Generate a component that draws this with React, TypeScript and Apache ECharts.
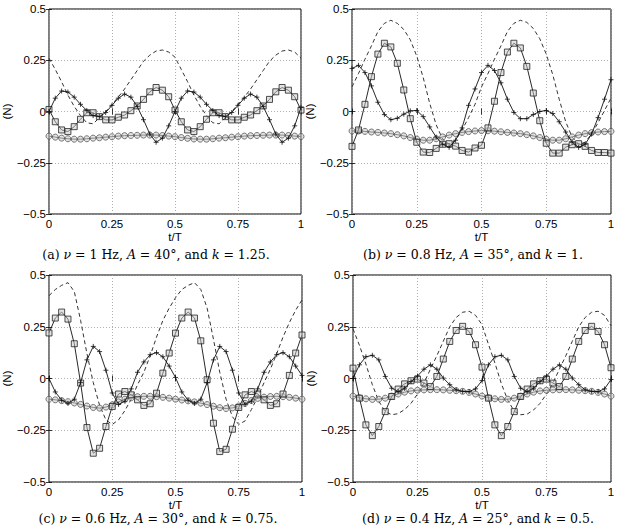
import React, { useEffect, useRef } from "react";
import * as echarts from "echarts";

// t/T sample points (every 0.025)
const T = [
  0, 0.025, 0.05, 0.075, 0.1, 0.125, 0.15, 0.175, 0.2, 0.225, 0.25, 0.275, 0.3, 0.325, 0.35, 0.375, 0.4,
  0.425, 0.45, 0.475, 0.5, 0.525, 0.55, 0.575, 0.6, 0.625, 0.65, 0.675, 0.7, 0.725, 0.75, 0.775, 0.8,
  0.825, 0.85, 0.875, 0.9, 0.925, 0.95, 0.975, 1,
];

const X_TICKS = ["0", "0.25", "0.5", "0.75", "1"];
const Y_TICKS = ["\u22120.5", "\u22120.25", "0", "0.25", "0.5"];

// ---- panel (a) ----
const A_DASH = [0.26, 0.205, 0.145, 0.08, 0.025, -0.02, -0.055, -0.06, -0.03, 0.0, 0.035, 0.07, 0.11, 0.155, 0.2, 0.245, 0.275, 0.295, 0.3, 0.29, 0.265,
  0.205, 0.145, 0.08, 0.025, -0.02, -0.055, -0.06, -0.03, 0.0, 0.035, 0.07, 0.11, 0.155, 0.2, 0.245, 0.275, 0.295, 0.3, 0.29, 0.26];
const A_PLUS = [0.0, 0.065, 0.1, 0.095, 0.07, 0.035, 0.005, -0.02, -0.025, -0.005, 0.03, 0.065, 0.085, 0.07, 0.025, -0.04, -0.11, -0.15, -0.13, -0.07, 0.0,
  0.065, 0.1, 0.095, 0.07, 0.035, 0.005, -0.02, -0.025, -0.005, 0.03, 0.065, 0.085, 0.07, 0.025, -0.04, -0.11, -0.15, -0.13, -0.07, 0.02];
const A_SQ = [0.01, -0.05, -0.09, -0.098, -0.074, -0.038, -0.006, -0.006, -0.025, -0.041, -0.041, -0.028, -0.017, 0.004, 0.027, 0.059, 0.096, 0.117, 0.104, 0.072, 0.007,
  -0.05, -0.09, -0.098, -0.074, -0.038, -0.006, -0.006, -0.025, -0.041, -0.041, -0.028, -0.017, 0.004, 0.027, 0.059, 0.096, 0.117, 0.104, 0.072, 0.007];
const A_CIR = [-0.12, -0.125, -0.13, -0.133, -0.135, -0.135, -0.133, -0.13, -0.128, -0.125, -0.123, -0.12, -0.118, -0.117, -0.116, -0.115, -0.115, -0.115, -0.117, -0.12, -0.123,
  -0.127, -0.131, -0.134, -0.135, -0.135, -0.133, -0.13, -0.128, -0.125, -0.123, -0.12, -0.118, -0.117, -0.116, -0.115, -0.115, -0.115, -0.117, -0.12, -0.122];

// ---- panel (b) ----
const B_DASH = [0.12, 0.185, 0.255, 0.32, 0.39, 0.43, 0.445, 0.43, 0.4, 0.35, 0.27, 0.165, 0.04, -0.065, -0.135, -0.16, -0.14, -0.09, -0.03, 0.035, 0.12,
  0.185, 0.255, 0.32, 0.39, 0.43, 0.445, 0.435, 0.405, 0.355, 0.28, 0.18, 0.06, -0.05, -0.125, -0.16, -0.15, -0.11, -0.055, 0.005, 0.065];
const B_PLUS = [0.21, 0.225, 0.19, 0.125, 0.045, -0.015, -0.04, -0.033, -0.013, 0.003, 0.005, -0.025, -0.075, -0.125, -0.16, -0.175, -0.14, -0.08, 0.03, 0.11, 0.19,
  0.225, 0.2, 0.14, 0.06, -0.005, -0.035, -0.035, -0.015, 0.0, 0.005, -0.01, -0.05, -0.1, -0.15, -0.175, -0.16, -0.11, -0.03, 0.06, 0.155];
const B_SQ = [-0.17, -0.09, 0.035, 0.17, 0.28, 0.333, 0.315, 0.235, 0.105, -0.035, -0.15, -0.198, -0.2, -0.18, -0.16, -0.157, -0.169, -0.19, -0.198, -0.178, -0.165,
  -0.08, 0.05, 0.19, 0.29, 0.333, 0.31, 0.22, 0.09, -0.045, -0.155, -0.203, -0.203, -0.174, -0.162, -0.157, -0.17, -0.19, -0.2, -0.2, -0.203];
const B_CIR = [-0.095, -0.095, -0.097, -0.1, -0.102, -0.105, -0.108, -0.113, -0.119, -0.127, -0.135, -0.14, -0.14, -0.133, -0.124, -0.115, -0.108, -0.102, -0.098, -0.095, -0.093,
  -0.094, -0.096, -0.099, -0.102, -0.105, -0.108, -0.113, -0.119, -0.127, -0.135, -0.14, -0.14, -0.133, -0.124, -0.115, -0.108, -0.103, -0.1, -0.098, -0.097];

// ---- panel (c) ----
const C_DASH = [0.4, 0.43, 0.45, 0.463, 0.42, 0.28, 0.12, -0.02, -0.13, -0.2, -0.222, -0.2, -0.155, -0.1, -0.03, 0.03, 0.11, 0.2, 0.28, 0.34, 0.39,
  0.43, 0.45, 0.463, 0.43, 0.34, 0.19, 0.03, -0.1, -0.185, -0.222, -0.205, -0.15, -0.09, -0.02, 0.045, 0.12, 0.2, 0.27, 0.33, 0.38];
const C_PLUS = [0.0, -0.065, -0.105, -0.12, -0.1, -0.02, 0.09, 0.155, 0.13, 0.04, -0.07, -0.125, -0.11, -0.05, 0.03, 0.08, 0.115, 0.125, 0.105, 0.06, 0.005,
  -0.065, -0.105, -0.12, -0.1, -0.02, 0.09, 0.155, 0.13, 0.04, -0.07, -0.125, -0.11, -0.05, 0.03, 0.08, 0.115, 0.125, 0.105, 0.06, 0.015];
const C_SQ = [0.22, 0.292, 0.321, 0.287, 0.168, -0.022, -0.237, -0.361, -0.337, -0.232, -0.135, -0.075, -0.063, -0.079, -0.103, -0.13, -0.122, -0.071, 0.026, 0.123, 0.219,
  0.292, 0.321, 0.292, 0.182, -0.006, -0.216, -0.353, -0.342, -0.245, -0.14, -0.079, -0.063, -0.075, -0.103, -0.13, -0.122, -0.075, 0.015, 0.123, 0.21];
const C_CIR = [-0.1, -0.103, -0.107, -0.112, -0.118, -0.125, -0.133, -0.14, -0.143, -0.138, -0.127, -0.113, -0.1, -0.093, -0.088, -0.086, -0.086, -0.088, -0.091, -0.095, -0.1,
  -0.104, -0.108, -0.113, -0.119, -0.126, -0.134, -0.141, -0.145, -0.142, -0.133, -0.12, -0.106, -0.096, -0.09, -0.087, -0.086, -0.088, -0.091, -0.095, -0.1];

// ---- panel (d) ----
const D_DASH = [0.24, 0.16, 0.07, -0.03, -0.11, -0.16, -0.175, -0.17, -0.15, -0.12, -0.075, -0.022, 0.045, 0.11, 0.18, 0.25, 0.295, 0.32, 0.325, 0.305, 0.26,
  0.165, 0.075, -0.025, -0.105, -0.158, -0.175, -0.172, -0.152, -0.12, -0.075, -0.022, 0.045, 0.11, 0.18, 0.25, 0.295, 0.32, 0.325, 0.305, 0.255];
const D_PLUS = [0.0, 0.066, 0.105, 0.112, 0.09, 0.01, -0.047, -0.063, -0.047, -0.015, 0.012, 0.045, 0.066, 0.045, 0.002, -0.03, -0.055, -0.062, -0.063, -0.05, -0.01,
  0.066, 0.105, 0.112, 0.09, 0.01, -0.047, -0.063, -0.047, -0.015, 0.012, 0.045, 0.066, 0.045, 0.002, -0.03, -0.055, -0.062, -0.063, -0.05, -0.005];
const D_SQ = [0.05, -0.095, -0.224, -0.276, -0.232, -0.16, -0.087, -0.051, -0.026, -0.011, -0.003, -0.022, -0.039, 0.01, 0.094, 0.179, 0.232, 0.252, 0.227, 0.163, 0.055,
  -0.095, -0.224, -0.276, -0.232, -0.16, -0.087, -0.051, -0.026, -0.011, -0.003, -0.022, -0.039, 0.01, 0.094, 0.179, 0.232, 0.252, 0.227, 0.163, 0.052];
const D_CIR = [-0.085, -0.093, -0.098, -0.101, -0.1, -0.095, -0.085, -0.075, -0.066, -0.06, -0.057, -0.055, -0.054, -0.054, -0.055, -0.057, -0.059, -0.062, -0.067, -0.075, -0.085,
  -0.093, -0.098, -0.101, -0.1, -0.095, -0.085, -0.075, -0.066, -0.06, -0.057, -0.055, -0.054, -0.054, -0.055, -0.057, -0.059, -0.062, -0.067, -0.075, -0.085];

const PANEL_DATA = [
  { dash: A_DASH, plus: A_PLUS, sq: A_SQ, cir: A_CIR },
  { dash: B_DASH, plus: B_PLUS, sq: B_SQ, cir: B_CIR },
  { dash: C_DASH, plus: C_PLUS, sq: C_SQ, cir: C_CIR },
  { dash: D_DASH, plus: D_PLUS, sq: D_SQ, cir: D_CIR },
];

// caption segments: roman, italic, roman, italic ...
const CAPTIONS = [
  ["(a) ", "\u03bd", " = 1 Hz, ", "A", " = 40\u00b0, and ", "k", " = 1.25."],
  ["(b) ", "\u03bd", " = 0.8 Hz, ", "A", " = 35\u00b0, and ", "k", " = 1."],
  ["(c) ", "\u03bd", " = 0.6 Hz, ", "A", " = 30\u00b0, and ", "k", " = 0.75."],
  ["(d) ", "\u03bd", " = 0.4 Hz, ", "A", " = 25\u00b0, and ", "k", " = 0.5."],
];

const GRIDS = [
  { left: 42, top: 9, width: 259, height: 205 },
  { left: 352, top: 9, width: 259, height: 205 },
  { left: 42, top: 275, width: 260, height: 207 },
  { left: 353, top: 275, width: 258, height: 207 },
];
const CAPTION_POS = [
  { x: 156, y: 254 },
  { x: 473, y: 254 },
  { x: 158, y: 518 },
  { x: 478, y: 518 },
];

const SANS = "'Liberation Sans', Arial, Helvetica, sans-serif";
const SERIF = "'DejaVu Serif', 'Liberation Serif', serif";
const PLUS_PATH = "path://M5,0L5,10M0,5L10,5";

function pairs(vals: number[]) {
  return T.map((t, i) => [t, vals[i]]);
}

export default function App() {
  const ref = useRef<HTMLDivElement>(null);
  useEffect(() => {
    document.body.style.margin = "0";
    if (!ref.current) return;
    const chart = echarts.init(ref.current, null, { renderer: "svg" });

    const xAxis: any[] = [];
    const yAxis: any[] = [];
    const series: any[] = [];
    const graphic: any[] = [];

    GRIDS.forEach((g, i) => {
      const tick = { show: true, inside: true, length: 3, lineStyle: { color: "#000", width: 0.8 } };
      xAxis.push({
        type: "value", gridIndex: i, min: 0, max: 1, interval: 0.25, position: "bottom",
        axisLine: { show: false }, axisTick: tick,
        axisLabel: {
          color: "#000", fontFamily: SANS, fontSize: 11.5, margin: 4,
          formatter: (v: number) => X_TICKS[Math.round(v / 0.25)],
        },
        splitLine: { show: true, lineStyle: { color: "#9a9a9a", type: [1, 2], width: 0.8 } },
        name: "t/T", nameLocation: "middle", nameGap: 16,
        nameTextStyle: { color: "#000", fontFamily: SANS, fontSize: 11.5 },
      });
      xAxis.push({
        type: "value", gridIndex: i, min: 0, max: 1, interval: 0.25, position: "top",
        axisLine: { show: false }, axisTick: tick, axisLabel: { show: false }, splitLine: { show: false },
      });
      yAxis.push({
        type: "value", gridIndex: i, min: -0.5, max: 0.5, interval: 0.25, position: "left",
        axisLine: { show: false }, axisTick: tick,
        axisLabel: {
          color: "#000", fontFamily: SANS, fontSize: 11.5, margin: 3,
          formatter: (v: number) => Y_TICKS[Math.round((v + 0.5) / 0.25)],
        },
        splitLine: { show: true, lineStyle: { color: "#9a9a9a", type: [1, 2], width: 0.8 } },
        name: "(N)", nameLocation: "middle", nameGap: 33,
        nameTextStyle: { color: "#000", fontFamily: SANS, fontSize: 11.5 },
      });
      yAxis.push({
        type: "value", gridIndex: i, min: -0.5, max: 0.5, interval: 0.25, position: "right",
        axisLine: { show: false }, axisTick: tick, axisLabel: { show: false }, splitLine: { show: false },
      });

      const d = PANEL_DATA[i];
      const ax = { xAxisIndex: 2 * i, yAxisIndex: 2 * i };
      series.push({
        type: "line", ...ax, data: pairs(d.dash), showSymbol: false, z: 2,
        lineStyle: { color: "#333", width: 1, type: [4, 3] },
      });
      series.push({
        type: "line", ...ax, data: pairs(d.cir), symbol: "circle", symbolSize: 6, z: 3,
        lineStyle: { color: "#333", width: 0.9 },
        itemStyle: { color: "rgba(200,200,200,0.5)", borderColor: "#555", borderWidth: 0.8 },
      });
      series.push({
        type: "line", ...ax, data: pairs(d.sq), symbol: "rect", symbolSize: 6, z: 4,
        lineStyle: { color: "#111", width: 0.9 },
        itemStyle: { color: "rgba(200,200,200,0.5)", borderColor: "#222", borderWidth: 0.8 },
      });
      series.push({
        type: "line", ...ax, data: pairs(d.plus), symbol: PLUS_PATH, symbolSize: 5, z: 5,
        lineStyle: { color: "#111", width: 0.9 },
        itemStyle: { color: "none", borderColor: "#111", borderWidth: 0.8 },
      });

      const segs = CAPTIONS[i];
      const text = segs.map((s, k) => `{${k % 2 ? "i" : "r"}|${s}}`).join("");
      graphic.push({
        type: "text", x: CAPTION_POS[i].x, y: CAPTION_POS[i].y,
        style: {
          text, align: "center", verticalAlign: "middle",
          rich: {
            r: { fontFamily: SERIF, fontSize: 12.5, fill: "#000", color: "#000" },
            i: { fontFamily: SERIF, fontSize: 12.5, fontStyle: "italic", fill: "#000", color: "#000" },
          },
        },
      });
    });

    chart.setOption({
      animation: false,
      backgroundColor: "#fff",
      grid: GRIDS.map((g) => ({ ...g, show: true, borderColor: "#000", borderWidth: 1, backgroundColor: "transparent" })),
      xAxis, yAxis, series, graphic,
    });
    return () => chart.dispose();
  }, []);
  return <div ref={ref} style={{ width: 618, height: 526 }} />;
}
